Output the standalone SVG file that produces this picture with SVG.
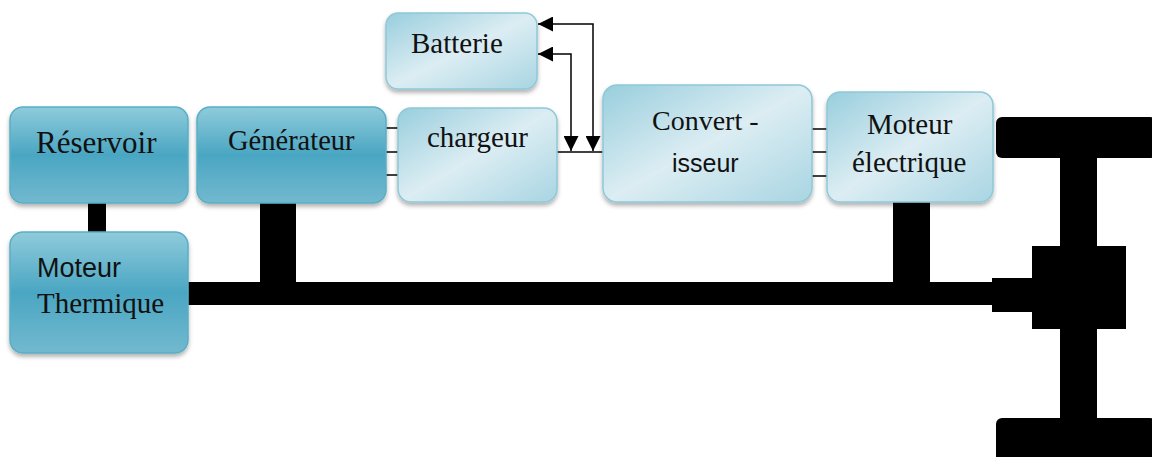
<svg xmlns="http://www.w3.org/2000/svg" width="1152" height="457" viewBox="0 0 1152 457">
  <defs>
    <linearGradient id="darkFill" x1="0" y1="0" x2="0" y2="1">
      <stop offset="0" stop-color="#8fcbdb"/>
      <stop offset="0.5" stop-color="#4aa6c2"/>
      <stop offset="1" stop-color="#72b9cf"/>
    </linearGradient>
    <linearGradient id="lightFill" x1="0" y1="0" x2="1" y2="1">
      <stop offset="0" stop-color="#98cedd"/>
      <stop offset="0.5" stop-color="#dcedf3"/>
      <stop offset="1" stop-color="#a8d5e2"/>
    </linearGradient>
    <filter id="shadow" x="-10%" y="-10%" width="120%" height="130%">
      <feDropShadow dx="0" dy="3" stdDeviation="2" flood-color="#000" flood-opacity="0.3"/>
    </filter>
    <marker id="arrow" viewBox="0 0 10 10" refX="10" refY="5" markerWidth="15" markerHeight="15" markerUnits="userSpaceOnUse" orient="auto-start-reverse">
      <path d="M0,0 L10,5 L0,10 Z" fill="#000"/>
    </marker>
  </defs>
  <style>
    .dark { fill: url(#darkFill); stroke: #5aaec6; stroke-width: 1.5; filter: url(#shadow); }
    .light { fill: url(#lightFill); stroke: #8fc8d8; stroke-width: 1.5; filter: url(#shadow); }
    .serif { font-family: "Liberation Serif", "Times New Roman", serif; font-size: 29px; fill: #111; }
    .sans { font-family: "Liberation Sans", Arial, sans-serif; font-size: 25px; fill: #111; }
    .wire { stroke: #000; stroke-width: 1.5; fill: none; }
    .bar { fill: #000; }
  </style>

  <rect width="1152" height="457" fill="#fff"/>

  <!-- mechanical links and signal wires -->
  <g id="connectors">
    <!-- tank to engine -->
    <rect class="bar" x="88" y="203" width="18" height="30"/>
    <!-- generator shaft -->
    <rect class="bar" x="260" y="201" width="36" height="84"/>
    <!-- electric motor shaft -->
    <rect class="bar" x="893" y="200" width="37" height="85"/>
    <!-- main drive shaft -->
    <rect class="bar" x="186" y="282" width="810" height="23"/>
    <rect class="bar" x="992" y="278" width="44" height="34"/>
    <!-- axle -->
    <rect class="bar" x="996" y="117" width="160" height="41" rx="6"/>
    <rect class="bar" x="1060" y="150" width="37" height="280"/>
    <rect class="bar" x="1032" y="246" width="94" height="83"/>
    <rect class="bar" x="996" y="418" width="160" height="45" rx="6"/>

    <!-- generator to charger -->
    <line class="wire" x1="386" y1="128" x2="399" y2="128"/>
    <line class="wire" x1="386" y1="152" x2="399" y2="152"/>
    <line class="wire" x1="386" y1="175" x2="399" y2="175"/>
    <!-- converter to electric motor -->
    <line class="wire" x1="811" y1="129" x2="828" y2="129"/>
    <line class="wire" x1="811" y1="152" x2="828" y2="152"/>
    <line class="wire" x1="811" y1="176" x2="828" y2="176"/>
    <!-- DC bus -->
    <line class="wire" x1="557" y1="152" x2="615" y2="152"/>
    <!-- battery links -->
    <polyline class="wire" points="538,24 593,24 593,151" marker-start="url(#arrow)" marker-end="url(#arrow)"/>
    <polyline class="wire" points="538,54 571,54 571,151" marker-start="url(#arrow)" marker-end="url(#arrow)"/>
  </g>

  <g id="reservoir">
    <rect class="dark" x="10" y="107" width="178" height="96" rx="13"/>
    <text class="serif" x="36" y="153" style="font-size:31px">Réservoir</text>
  </g>

  <g id="generateur">
    <rect class="dark" x="197" y="107" width="189" height="96" rx="13"/>
    <text class="serif" x="228" y="150" style="font-size:28.5px">Générateur</text>
  </g>

  <g id="moteur-thermique">
    <rect class="dark" x="10" y="232" width="178" height="121" rx="13"/>
    <text class="sans" x="37" y="277" style="font-size:27px">Moteur</text>
    <text class="serif" x="37" y="313">Thermique</text>
  </g>

  <g id="batterie">
    <rect class="light" x="386" y="13" width="151" height="76" rx="12"/>
    <text class="serif" x="411" y="53">Batterie</text>
  </g>

  <g id="chargeur">
    <rect class="light" x="398" y="108" width="159" height="94" rx="13"/>
    <text class="serif" x="427" y="147">chargeur</text>
  </g>

  <g id="convertisseur">
    <rect class="light" x="603" y="85" width="209" height="117" rx="14"/>
    <text class="serif" x="652" y="130" style="font-size:28px">Convert -</text>
    <text class="sans" x="672" y="172">isseur</text>
  </g>

  <g id="moteur-electrique">
    <rect class="light" x="827" y="92" width="166" height="110" rx="13"/>
    <text class="serif" x="867" y="134">Moteur</text>
    <text class="serif" x="852" y="172">électrique</text>
  </g>
</svg>
